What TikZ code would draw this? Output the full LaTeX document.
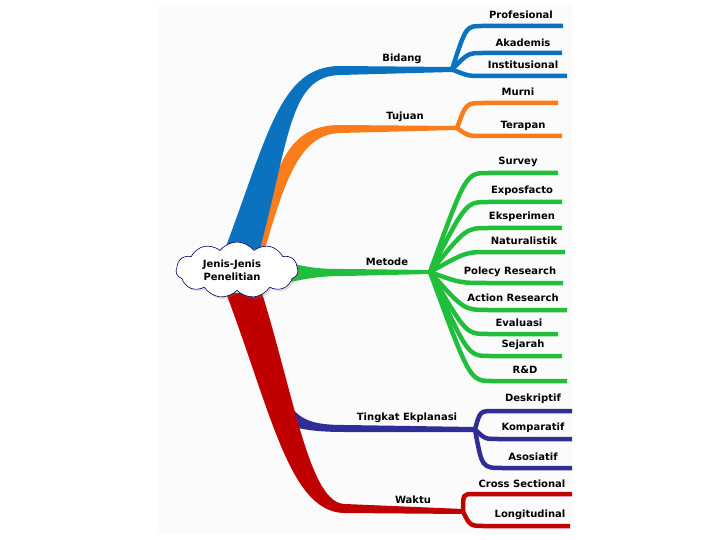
\documentclass[tikz,border=0pt]{standalone}
\usepackage{fontspec}
\setmainfont{DejaVu Sans}
\usetikzlibrary{positioning,shapes,shadows}
\definecolor{bidangc}{RGB}{10,114,190}
\definecolor{tujuanc}{RGB}{250,124,26}
\definecolor{metodec}{RGB}{32,190,58}
\definecolor{tingkatc}{RGB}{46,46,150}
\definecolor{waktuc}{RGB}{192,0,0}
\definecolor{panelc}{RGB}{251,251,251}

\begin{document}
\begin{tikzpicture}
[x=1pt, y=-1pt,
 lbl/.style={font=\bfseries\fontsize{10}{12}\selectfont, inner sep=1pt, align=center},
 root/.style={shape=cloud, cloud puffs=11, cloud puff arc=105, aspect=2.3,
   draw=black!60!blue, fill=white, line width=0.6pt, minimum width=122pt, minimum height=56pt,
   inner sep=0pt, drop shadow={shadow xshift=2pt, shadow yshift=-2pt, opacity=.25}},
 sub/.style={line width=4.5pt}]
\useasboundingbox (0,0) rectangle (720,540);
\fill[panelc] (157,5) rectangle (572,534);
% main branches
\fill[tujuanc] (255,249) .. controls (275,170) and (285,125) .. (340,125) -- (457,126)
  -- (457,130) -- (340,133) .. controls (300,134) and (285,180) .. (265,249) -- cycle;
\fill[bidangc] (225,249) .. controls (268,135) and (280,66) .. (340,66) -- (452,67)
  -- (452,72) -- (340,75) .. controls (290,76) and (290,135) .. (260,249) -- cycle;
\fill[tingkatc] (283,392) .. controls (295,420) and (310,425) .. (345,425) -- (475,427)
  -- (475,432) -- (345,432) .. controls (320,432) and (300,430) .. (290,425) -- cycle;
\fill[waktuc] (226,293) .. controls (272,415) and (290,513) .. (345,513) -- (463,514)
  -- (463,509) -- (345,504) .. controls (310,504) and (295,400) .. (262,293) -- cycle;
\fill[metodec] (285,262) .. controls (310,268) and (320,269) .. (345,269) -- (430,270)
  -- (430,274) -- (345,276) .. controls (320,276) and (310,278) .. (285,283) -- cycle;
\node[root] (jenis) at (237,270) {};
\node[lbl] (jenis-l) at (232,270) {Jenis-Jenis\\[1pt]Penelitian};
% forks
\coordinate (bidang) at (452,69.5);
\coordinate (tujuan) at (457,128);
\coordinate (metode) at (430,272);
\coordinate (tingkat) at (475,429.5);
\coordinate (waktu) at (463,511.5);
\node[lbl] (bidang-l) at (402,59) {Bidang};
\node[lbl] (tujuan-l) at (405,117) {Tujuan};
\node[lbl] (metode-l) at (387,262) {Metode};
\node[lbl] (tingkat-l) at (407,418) {Tingkat Ekplanasi};
\node[lbl] (waktu-l) at (413,500) {Waktu};
% line ends
\coordinate (profesional) at (563,26);
\coordinate (akademis) at (562,53);
\coordinate (institusional) at (567,76);
\coordinate (murni) at (558,103);
\coordinate (terapan) at (562,136);
\coordinate (survey) at (558,173);
\coordinate (exposfacto) at (562,202);
\coordinate (eksperimen) at (562,228);
\coordinate (naturalistik) at (565,252);
\coordinate (polecy) at (563,283);
\coordinate (action) at (567,310);
\coordinate (evaluasi) at (558,334);
\coordinate (sejarah) at (562,356);
\coordinate (rnd) at (567,381);
\coordinate (deskriptif) at (572,411);
\coordinate (komparatif) at (572,439);
\coordinate (asosiatif) at (572,468);
\coordinate (cross) at (572,494);
\coordinate (longitudinal) at (570,526);
% sub branches
\draw[sub,bidangc] (bidang) .. controls (466,26) .. (482,26) -- (profesional);
\draw[sub,bidangc] (bidang) .. controls (468,53) .. (484,53) -- (akademis);
\draw[sub,bidangc] (bidang) .. controls (468,76) .. (484,76) -- (institusional);
\draw[sub,tujuanc] (tujuan) .. controls (466,103) .. (484,103) -- (murni);
\draw[sub,tujuanc] (tujuan) .. controls (468,136) .. (484,136) -- (terapan);
\draw[sub,metodec] (metode) .. controls (466,173) .. (488,173) -- (survey);
\draw[sub,metodec] (metode) .. controls (466,202) .. (488,202) -- (exposfacto);
\draw[sub,metodec] (metode) .. controls (466,228) .. (488,228) -- (eksperimen);
\draw[sub,metodec] (metode) .. controls (466,252) .. (488,252) -- (naturalistik);
\draw[sub,metodec] (metode) .. controls (460,283) .. (488,283) -- (polecy);
\draw[sub,metodec] (metode) .. controls (464,310) .. (488,310) -- (action);
\draw[sub,metodec] (metode) .. controls (466,334) .. (488,334) -- (evaluasi);
\draw[sub,metodec] (metode) .. controls (468,356) .. (490,356) -- (sejarah);
\draw[sub,metodec] (metode) .. controls (470,381) .. (492,381) -- (rnd);
\draw[sub,tingkatc] (tingkat) .. controls (480,411) .. (494,411) -- (deskriptif);
\draw[sub,tingkatc] (tingkat) .. controls (485,439) .. (498,439) -- (komparatif);
\draw[sub,tingkatc] (tingkat) .. controls (482,468) .. (503,468) -- (asosiatif);
\draw[sub,waktuc] (waktu) .. controls (463,494) .. (474,494) -- (cross);
\draw[sub,waktuc] (waktu) .. controls (470,526) .. (486,526) -- (longitudinal);
% labels
\node[lbl] (profesional-l) at (521,15) {Profesional};
\node[lbl] (akademis-l) at (523,43) {Akademis};
\node[lbl] (institusional-l) at (523,65) {Institusional};
\node[lbl] (murni-l) at (518,92) {Murni};
\node[lbl] (terapan-l) at (523,126) {Terapan};
\node[lbl] (survey-l) at (518,162) {Survey};
\node[lbl] (exposfacto-l) at (522,191) {Exposfacto};
\node[lbl] (eksperimen-l) at (522,217) {Eksperimen};
\node[lbl] (naturalistik-l) at (524,241) {Naturalistik};
\node[lbl] (polecy-l) at (510,272) {Polecy Research};
\node[lbl] (action-l) at (513,298) {Action Research};
\node[lbl] (evaluasi-l) at (519,323) {Evaluasi};
\node[lbl] (sejarah-l) at (523,345) {Sejarah};
\node[lbl] (rnd-l) at (525,370) {R\&D};
\node[lbl] (deskriptif-l) at (533,399) {Deskriptif};
\node[lbl] (komparatif-l) at (533,428) {Komparatif};
\node[lbl] (asosiatif-l) at (533,457) {Asosiatif};
\node[lbl] (cross-l) at (522,484) {Cross Sectional};
\node[lbl] (longitudinal-l) at (530,515) {Longitudinal};
\end{tikzpicture}
\end{document}
